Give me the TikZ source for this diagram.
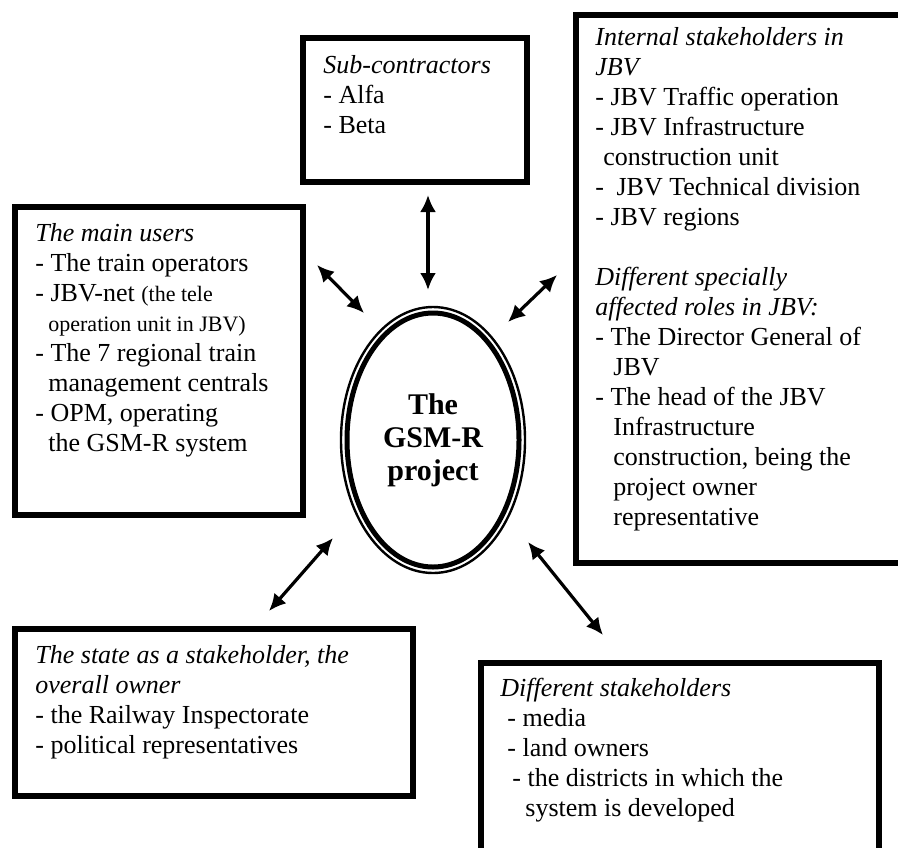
\documentclass[tikz,border=0pt]{standalone}
\usepackage{fontspec}
\setmainfont{Liberation Serif}
\usetikzlibrary{arrows.meta}
\usetikzlibrary{shapes.geometric}
\usetikzlibrary{positioning}

\tikzset{
    box/.style={draw,line width=2.8pt,anchor=north west,inner sep=0pt},
    txt/.style={anchor=north west,align=left,inner sep=0pt,font=\fontsize{13}{15}\selectfont},
    link/.style={line width=1.6pt,{Latex[length=8.5pt,width=8pt]}-{Latex[length=8.5pt,width=8pt]}},
    oval/.style={ellipse,draw,inner sep=0pt},
}

\begin{document}
\begin{tikzpicture}[x=0.5pt,y=-0.5pt]
    \useasboundingbox (0,0) rectangle (898,847);

    % boxes
    \node[box,minimum width=112pt,minimum height=72pt] (sub) at (300,35) {};
    \node[box,minimum width=144pt,minimum height=154pt] (users) at (12,204) {};
    \node[box,minimum width=170pt,minimum height=274pt] (internal) at (573,12) {};
    \node[box,minimum width=199pt,minimum height=83.5pt] (state) at (12,626) {};
    \node[box,minimum width=199pt,minimum height=110pt] (diff) at (478,660) {};

    \node[txt] (subtxt) at (323,55) {\textit{Sub-contractors}\\- Alfa\\- Beta};
    \node[txt] (userstxt) at (35,223) {\textit{The main users}\\
        - The train operators\\
        - JBV-net {\fontsize{11}{15}\selectfont(the tele}\\
        \hspace*{6.5pt}{\fontsize{11}{15}\selectfont operation unit in JBV)}\\
        - The 7 regional train\\
        \hspace*{6.5pt}management centrals\\
        - OPM, operating\\
        \hspace*{6.5pt}the GSM-R system};
    \node[txt] (internaltxt) at (595,27) {\textit{Internal stakeholders in}\\
        \textit{JBV}\\
        - JBV Traffic operation\\
        - JBV Infrastructure\\
        \hspace*{4pt}construction unit\\
        - \hspace{3pt}JBV Technical division\\
        - JBV regions\\[15pt]
        \textit{Different specially}\\
        \textit{affected roles in JBV:}\\
        - The Director General of\\
        \hspace*{9pt}JBV\\
        - The head of the JBV\\
        \hspace*{9pt}Infrastructure\\
        \hspace*{9pt}construction, being the\\
        \hspace*{9pt}project owner\\
        \hspace*{9pt}representative};
    \node[txt] (statetxt) at (35,645) {\textit{The state as a stakeholder, the}\\
        \textit{overall owner}\\
        - the Railway Inspectorate\\
        - political representatives};
    \node[txt] (difftxt) at (500,678) {\textit{Different stakeholders}\\
        \hspace*{3.5pt}- media\\
        \hspace*{3.5pt}- land owners\\
        \hspace*{6pt}- the districts in which the\\
        \hspace*{12.5pt}system is developed};

    % the project
    \node[oval,line width=1.2pt,minimum width=92pt,minimum height=133pt] (proj) at (433,440) {};
    \node[oval,line width=2.5pt,minimum width=86pt,minimum height=127pt,align=center,
        font=\fontsize{15}{16.5}\selectfont\bfseries] (projin) at (proj) {The\\GSM-R\\project};

    % arrows
    \coordinate (s1) at (428,195);
    \coordinate (s2) at (428,290);
    \coordinate (u1) at (317,265);
    \coordinate (u2) at (364,313);
    \coordinate (i1) at (557,275);
    \coordinate (i2) at (508,322);
    \coordinate (t1) at (333,538);
    \coordinate (t2) at (269,611);
    \coordinate (d1) at (528,542);
    \coordinate (d2) at (603,635);
    \draw[link] (s1) -- (s2);
    \draw[link] (u1) -- (u2);
    \draw[link] (i1) -- (i2);
    \draw[link] (t1) -- (t2);
    \draw[link] (d1) -- (d2);
\end{tikzpicture}
\end{document}
